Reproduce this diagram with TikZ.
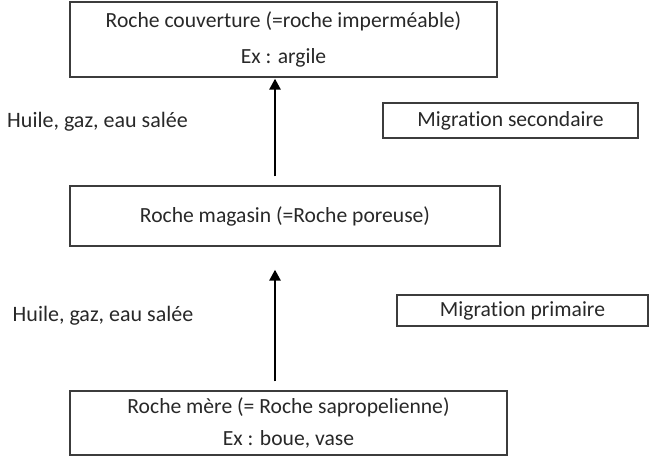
\documentclass[tikz,border=0pt]{standalone}
\usepackage{fontspec}
\setmainfont{Carlito}[Ligatures=NoCommon]
\usetikzlibrary{arrows.meta,positioning}
\definecolor{textColor}{RGB}{40,40,40}
\definecolor{borderColor}{RGB}{60,60,60}
\tikzset{rock/.style={draw=borderColor, line width=1.3pt, align=center, inner sep=0pt, text=textColor, font=\fontsize{21.6}{26}\selectfont}}
\tikzset{migration/.style={rock}}
\tikzset{fluid/.style={text=textColor, inner sep=0pt, font=\fontsize{22}{26}\selectfont}}

\begin{document}
\begin{tikzpicture}[x=1pt, y=1pt]
\useasboundingbox (0,0) rectangle (652,458);
% Nodes
\node (couverture) [rock, minimum width=427pt, minimum height=75pt] at (283.5,418.5) {Roche couverture (=roche imperméable)\\[10pt] Ex : argile};
\node (magasin) [rock, minimum width=430pt, minimum height=60pt] at (285,242) {Roche magasin (=Roche poreuse)};
\node (mere) [rock, minimum width=437pt, minimum height=64pt] at (288.5,35) {Roche mère (= Roche sapropelienne)\\[6pt] Ex : boue, vase};

\node (secondaire) [migration, minimum width=255pt, minimum height=35pt] at (510.5,337.5) {Migration secondaire};
\node (primaire) [migration, minimum width=251pt, minimum height=31pt] at (522.5,147.5) {Migration primaire};

\node (fluide1) [fluid] at (97.5,336) {Huile, gaz, eau salée};
\node (fluide2) [fluid] at (103,142) {Huile, gaz, eau salée};

\coordinate (axis) at (275,0);

% Connectors
\begin{scope}[->]
\draw [-{Triangle[length=11pt, width=11pt]}, line width=2.6pt, shorten <=9pt, shorten >=1pt] (magasin.north -| axis) -- (couverture.south -| axis);
\draw [-{Triangle[length=11pt, width=11pt]}, line width=2.6pt, shorten <=9pt, shorten >=23pt] (mere.north -| axis) -- (magasin.south -| axis);
\end{scope}

\end{tikzpicture}
\end{document}
